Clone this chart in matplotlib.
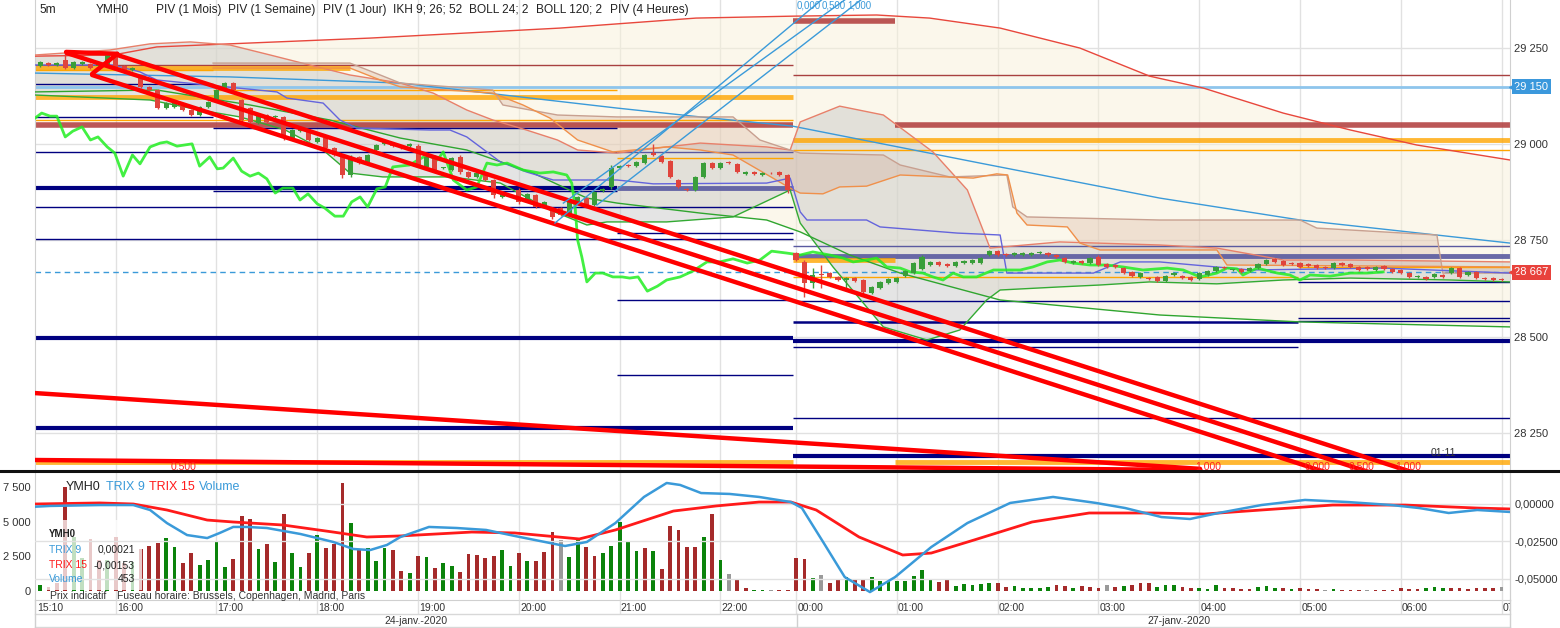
import numpy as np
import matplotlib.pyplot as plt
from matplotlib.lines import Line2D
from matplotlib.patches import Rectangle
import matplotlib.transforms as mtransforms

plt.rcParams['font.family'] = ['Liberation Sans', 'DejaVu Sans']

# ---- time axis: one unit = one 5 min bar, 15:10 -> 0, 00:00 -> 91 ----
HOUR_IDX = [0.5, 10, 22, 34, 46, 58, 70, 82, 91, 103, 115, 127, 139, 151, 163, 175]
HOUR_LBL = ['15:10', '16:00', '17:00', '18:00', '19:00', '20:00', '21:00', '22:00',
            '00:00', '01:00', '02:00', '03:00', '04:00', '05:00', '06:00', '07:00']
PRICE_TICKS = [28250, 28500, 28750, 29000, 29250]

# ---- candles (session 24-jan 0..90, session 27-jan 91..175) ----
OPEN = [29211, 29203, 29211, 29206, 29219, 29198, 29209, 29209, 29203, 29206,
        29229, 29203, 29193, 29175, 29149, 29141, 29094, 29097, 29099, 29089,
        29076, 29097, 29115, 29146, 29159, 29115, 29094, 29055, 29076, 29071,
        29071, 29017, 29034, 29037, 29006, 29017, 28990, 28967, 28920, 28967,
        28951, 28985, 29001, 29001, 28995, 28995, 28995, 28941, 28967, 28938,
        28933, 28967, 28928, 28915, 28925, 28907, 28863, 28868, 28881, 28855,
        28868, 28837, 28834, 28834, 28816, 28847, 28860, 28842, 28878, 28889,
        28938, 28946, 28943, 28951, 28977, 28969, 28956, 28907, 28884, 28881,
        28915, 28951, 28938, 28954, 28949, 28923, 28928, 28920, 28925, 28928,
        28920,
        28717, 28694, 28639, 28663, 28665, 28655, 28647, 28652, 28647, 28613,
        28626, 28639, 28642, 28657, 28665, 28676, 28686, 28694, 28689, 28683,
        28691, 28691, 28691, 28712, 28722, 28715, 28712, 28712, 28712, 28717,
        28717, 28712, 28704, 28691, 28696, 28691, 28707, 28689, 28686, 28678,
        28668, 28655, 28652, 28655, 28644, 28660, 28657, 28655, 28650, 28660,
        28670, 28681, 28673, 28676, 28670, 28678, 28689, 28702, 28696, 28691,
        28691, 28689, 28686, 28681, 28678, 28691, 28689, 28681, 28681, 28673,
        28683, 28676, 28673, 28665, 28655, 28655, 28655, 28660, 28665, 28678,
        28660, 28668, 28652, 28652, 28650]
CLOSE = [29206, 29214, 29206, 29211, 29198, 29214, 29214, 29198, 29211, 29232,
         29198, 29188, 29198, 29149, 29141, 29094, 29107, 29107, 29089, 29076,
         29097, 29110, 29141, 29159, 29141, 29063, 29058, 29079, 29058, 29073,
         29019, 29037, 29040, 29011, 29017, 28990, 28972, 28920, 28967, 28951,
         28972, 28998, 29006, 28995, 28990, 29001, 28946, 28967, 28933, 28940,
         28964, 28928, 28915, 28925, 28907, 28868, 28876, 28865, 28850, 28871,
         28837, 28850, 28811, 28816, 28855, 28863, 28842, 28876, 28884, 28938,
         28943, 28943, 28954, 28972, 28972, 28954, 28915, 28889, 28881, 28915,
         28951, 28938, 28951, 28951, 28928, 28928, 28923, 28925, 28924, 28920,
         28881,
         28699, 28639, 28660, 28660, 28655, 28647, 28652, 28644, 28616, 28629,
         28642, 28650, 28652, 28670, 28691, 28707, 28694, 28686, 28683, 28694,
         28696, 28699, 28704, 28722, 28712, 28712, 28717, 28717, 28717, 28720,
         28712, 28707, 28694, 28696, 28691, 28704, 28686, 28681, 28681, 28665,
         28657, 28665, 28650, 28644, 28657, 28665, 28652, 28647, 28665, 28670,
         28681, 28678, 28674, 28668, 28678, 28689, 28699, 28694, 28686, 28689,
         28681, 28683, 28678, 28678, 28691, 28686, 28681, 28673, 28676, 28681,
         28676, 28668, 28665, 28655, 28657, 28650, 28663, 28655, 28678, 28655,
         28668, 28652, 28650, 28647, 28647]
WICKS = {4: (29240, 29196), 13: (29180, 29146), 25: (29118, 29055), 30: (29073, 29011),
         37: (28970, 28912), 38: (28972, 28915), 46: (29001, 28941), 48: (28972, 28925),
         51: (28972, 28923), 55: (28910, 28860), 58: (28886, 28845), 62: (28837, 28805),
         64: (28860, 28811), 69: (28945, 28884), 74: (29001, 28970), 76: (28959, 28912),
         90: (28923, 28873), 92: (28699, 28603), 93: (28678, 28626), 94: (28686, 28626),
         97: (28655, 28621), 99: (28650, 28610), 106: (28712, 28673), 127: (28712, 28683)}

# ---- volume (r = down, g = up, n = unchanged) ----
VOL = [600, 430, 300, 580, 7500, 3900, 2400, 3750, 2250, 2250,
       3900, 2000, 2100, 3000, 3240, 3460, 3800, 3170, 2020, 2740,
       1870, 2230, 3600, 1730, 2300, 5400, 5200, 3020, 3380, 2090,
       5550, 2740, 1730, 2740, 4030, 3100, 3380, 7780, 4900, 2950,
       3100, 2160, 3100, 2950,
       1440, 1270, 2520, 2420, 1630, 1990, 1800, 1340, 2640, 2570,
       2350, 2520, 2930, 1820, 2710, 2160, 2160, 2780, 4250, 3670,
       2420, 3790, 3140, 2520, 2710, 3260, 4940, 3580, 2900, 3070,
       2900, 1560, 4650, 4370, 3140, 3140, 3860, 5520, 2210, 1200,
       790, 190, 70, 70, 70, 70, 70,
       2350, 2280, 910, 1130, 550, 840, 1010, 790, 790, 980,
       740, 740, 740, 740, 1080, 1510, 840, 670, 790, 360,
       500, 410, 500, 550, 550, 310, 360, 190, 210, 210,
       260, 410, 360, 210, 330, 310, 210, 410, 310, 360,
       410, 550, 550, 260, 410, 410, 310, 210, 190, 170,
       410, 190, 190, 170, 170, 260, 330, 240, 190, 170,
       190, 170, 150, 100, 150, 100, 100, 100, 70, 70,
       100, 100, 190, 170, 170, 210, 290, 190, 240, 190,
       120, 240, 240, 240, 290]
VOL_DIR = ("rgrrrggrrg" "rrgrrrggrr" "ggggrrrgrg" "rggrgrrrgr" "gggr"
           "rgrgrggrrr" "rrggrgrrrn" "ggrrgggggr" "grrrrrgrgn" "rrggnrr"
           "rrgnrrgrrg" "gggggggrrg" "ggggrrgggg" "grrgrrrnrg" "rrrgggrrgg"
           "grrrrgggrg" "rrrngrrrnr" "rrrrrgggrr" "rrrrn")

# ---- TRIX ----
TRIX9_X = [0.4, 2.2, 8.1, 12.1, 14.1, 16.1, 18.5, 20.9, 22.4, 24.0, 25.6, 28.0, 32.0, 35.9,
           38.3, 40.3, 42.3, 43.9, 47.3, 50.6, 54.1, 57.5, 63.5, 66.1, 69.5, 72.9, 75.6, 77.2,
           79.7, 83.1, 86.6, 90.4, 91.7, 94.3, 96.8, 99.8, 102.8, 107.1, 111.4, 116.5, 121.6,
           126.7, 130.2, 134.5, 137.9, 141.3, 146.4, 151.6, 156.7, 161.9, 165.2, 168.7, 172.1, 176.0]
TRIX9_Y = [-0.0018, -0.0013, -0.0007, -0.0007, -0.0040, -0.0127, -0.0207, -0.0227, -0.0193,
           -0.0153, -0.0153, -0.0160, -0.0200, -0.0253, -0.0300, -0.0307, -0.0273, -0.0220,
           -0.0153, -0.0160, -0.0173, -0.0213, -0.0280, -0.0253, -0.0127, 0.0047, 0.0140,
           0.0127, 0.0073, 0.0067, 0.0047, 0.0013, -0.0027, -0.0260, -0.0487, -0.0587,
           -0.0487, -0.0287, -0.0127, 0.0007, 0.0047, 0.0007, -0.0027, -0.0087, -0.0100,
           -0.0060, -0.0007, 0.0027, 0.0013, -0.0007, -0.0027, -0.0060, -0.0040, -0.0053]
TRIX15_X = [0.4, 8.1, 12.1, 16.1, 20.9, 24.0, 29.9, 35.9, 39.9, 43.9, 52.4, 57.5, 65.2, 69.5,
            76.4, 81.5, 86.6, 90.4, 93.4, 98.5, 103.7, 107.1, 112.2, 119.1, 125.9, 133.6,
            139.6, 146.4, 154.9, 163.5, 172.1, 176.0]
TRIX15_Y = [0.0, 0.0007, 0.0, -0.0040, -0.0107, -0.0120, -0.0140, -0.0187, -0.0220, -0.0213,
            -0.0187, -0.0193, -0.0233, -0.0173, -0.0047, -0.0013, 0.0013, 0.0013, -0.0040,
            -0.0220, -0.0340, -0.0327, -0.0240, -0.0120, -0.0060, -0.0060, -0.0067, -0.0040,
            -0.0007, -0.0007, -0.0027, -0.0033]

# ---- indicators on price ----
B120_UP_X = [0.4, 9.7, 14.9, 23.6, 34.7, 40.3, 62.9, 79.1, 90.6, 100.6, 106.9, 115.3, 124.8,
             133.1, 139.5, 149.0, 157.0, 164.9, 176.0]
B120_UP_Y = [29229, 29232, 29253, 29261, 29271, 29276, 29302, 29328, 29333, 29336, 29328,
             29302, 29250, 29177, 29146, 29081, 29037, 28998, 28959]
B120_LO_X = [0.4, 14.9, 26.0, 35.5, 43.9, 51.8, 59.7, 66.1, 69.7, 79.6, 87.5, 91.5, 97.4,
             103.4, 115.3, 134.3, 151.0, 176.0]
B120_LO_Y = [29136, 29141, 29102, 29063, 29016, 28985, 28925, 28860, 28847, 28821, 28803,
             28772, 28712, 28665, 28595, 28556, 28538, 28525]
B120_MID_X = [0.4, 23.6, 43.9, 69.7, 79.6, 90.6, 112.9, 134.3, 151.0, 176.0]
B120_MID_Y = [29185, 29175, 29159, 29094, 29071, 29047, 28951, 28860, 28803, 28743]

B24_UP_X = [0.4, 9.3, 14.1, 18.9, 23.6, 28.4, 33.1, 37.9, 43.9, 47.8, 51.8, 54.9, 58.9, 62.6,
            65.0, 69.7, 75.6, 79.6, 83.5, 87.5, 90.3, 91.5, 96.2, 101.4, 107.3, 111.4, 114.1,
            122.4, 134.3, 141.1, 149.0, 157.0, 176.0]
B24_UP_Y = [29232, 29245, 29261, 29266, 29258, 29232, 29206, 29180, 29159, 29133, 29089,
            29063, 29037, 29011, 28985, 28977, 28993, 29003, 28998, 28993, 28985, 29058,
            29099, 29076, 28980, 28881, 28730, 28746, 28738, 28730, 28699, 28699, 28694]
B24_LO_X = [0.4, 14.1, 20.0, 24.8, 30.2, 34.7, 37.9, 41.8, 49.8, 55.8, 61.7, 66.1, 68.5, 75.6,
            83.5, 90.3, 91.5, 95.4, 101.4, 106.6, 110.5, 113.7, 115.3, 122.4, 127.2, 133.1,
            141.1, 149.0, 157.0, 168.9, 176.0]
B24_LO_Y = [29128, 29115, 29089, 29071, 29037, 28985, 28925, 28915, 28915, 28899, 28829,
            28790, 28798, 28798, 28811, 28881, 28795, 28681, 28525, 28491, 28517, 28595,
            28621, 28629, 28634, 28642, 28637, 28647, 28652, 28647, 28642]

KUMO_A_X = [21.6, 37.9, 41.5, 43.9, 54.9, 56.1, 62.6, 69.7, 83.5, 86.7, 90.3, 91.5, 101.4,
            103.4, 109.3, 116.1, 116.8, 118.5, 134.3, 151.0, 153.0, 167.3, 168.0, 176.0]
KUMO_A_Y = [29211, 29211, 29180, 29159, 29141, 29102, 29076, 29071, 29071, 29011, 28985,
            28977, 28972, 28946, 28915, 28920, 28837, 28811, 28803, 28803, 28782, 28764,
            28665, 28665]
KUMO_B_X = [21.6, 37.9, 41.5, 43.9, 54.9, 58.5, 61.7, 65.0, 69.2, 75.6, 79.6, 83.5, 90.3,
            91.5, 94.2, 96.2, 99.4, 103.4, 112.1, 114.9, 116.2, 117.3, 118.5, 123.3, 124.8,
            127.2, 141.1, 142.3, 176.0]
KUMO_B_Y = [29198, 29198, 29167, 29149, 29133, 29102, 29068, 29011, 28980, 28993, 28985,
            28972, 28886, 28873, 28871, 28889, 28891, 28920, 28912, 28923, 28920, 28821,
            28790, 28785, 28743, 28725, 28725, 28686, 28681]
KIJUN_X = [0.4, 9.7, 12.9, 14.9, 29.2, 30.4, 34.7, 36.7, 38.7, 47.4, 49.8, 51.8, 55.8, 58.9,
           62.1, 69.7, 74.0, 87.5, 90.3, 91.5, 92.3, 99.4, 101.0, 110.2, 115.3, 116.1, 126.4,
           129.6, 134.3, 145.1, 160.9, 176.0]
KIJUN_Y = [29206, 29206, 29188, 29167, 29136, 29120, 29107, 29063, 29042, 29037, 29037,
           29019, 28954, 28928, 28907, 28907, 28897, 28899, 28912, 28824, 28803, 28803,
           28785, 28769, 28764, 28665, 28665, 28694, 28694, 28673, 28678, 28665]
LAG_X = [0.4, 1.2, 2.2, 3.0, 4.0, 4.9, 6.0, 7.0, 7.9, 9.0, 9.9, 10.9, 12.0, 12.9, 14.1, 15.3,
         16.1, 17.3, 19.1, 20.0, 21.2, 22.1, 22.8, 24.0, 25.0, 26.0, 27.0, 28.0, 29.0, 29.9,
         31.1, 31.95, 32.9, 34.0, 34.9, 36.1, 37.1, 38.1, 39.1, 40.0, 41.1, 42.1, 43.0, 45.0,
         46.0, 47.1, 48.3, 49.0, 50.2, 51.8, 53.0, 54.2, 55.4, 56.6, 58.5, 60.5, 62.1, 63.7,
         64.3, 64.7, 65.0, 65.5, 66.1, 67.1, 68.0, 69.2, 70.3, 71.2, 72.2, 73.3, 74.5, 75.6,
         77.2, 78.7, 80.4, 81.9, 83.5, 85.2, 86.7, 88.1, 89.9, 91.5, 93.0, 95.0, 96.6, 97.8,
         99.4, 100.6, 101.8, 103.4, 104.6, 106.1, 107.3, 108.5, 109.7, 110.9, 112.5, 114.5,
         116.1, 117.7, 119.2, 120.9, 122.4, 124.0, 126.0, 128.0, 129.9, 132.3, 135.2, 137.1,
         139.1, 141.1, 142.3, 143.5, 144.2, 145.9, 148.3, 149.8, 151.0, 152.2, 154.6, 157.0,
         159.0, 160.9]
LAG_Y = [29068, 29081, 29073, 29073, 29019, 29034, 29045, 29011, 29019, 28993, 28977, 28917,
         28972, 28949, 28993, 29003, 29006, 28995, 29001, 28943, 28967, 28936, 28938, 28964,
         28930, 28917, 28925, 28910, 28873, 28886, 28886, 28855, 28871, 28845, 28834, 28813,
         28813, 28850, 28863, 28837, 28884, 28889, 28941, 28946, 28959, 28972, 28959, 28980,
         28907, 28881, 28889, 28951, 28946, 28951, 28933, 28925, 28928, 28920, 28899, 28837,
         28751, 28707, 28642, 28665, 28665, 28655, 28655, 28652, 28655, 28618, 28631, 28647,
         28655, 28670, 28694, 28694, 28702, 28691, 28699, 28722, 28717, 28712, 28720, 28712,
         28704, 28694, 28699, 28704, 28681, 28678, 28668, 28665, 28655, 28647, 28665, 28655,
         28655, 28673, 28673, 28673, 28681, 28694, 28699, 28691, 28686, 28686, 28681, 28673,
         28678, 28673, 28655, 28665, 28678, 28676, 28660, 28678, 28665, 28660, 28647, 28660,
         28657, 28665, 28665, 28668]

# ---- pivot levels: (from bar, to bar, price, kind) ----
PIVOTS = [(0, 90.6, 29206, 'red'), (90.6, 176, 29180, 'red'), (0, 21.6, 29157, 'nav'),
          (0, 176, 29150, 'sky'), (21.6, 69.7, 29141, 'org'), (0, 90.6, 29123, 'orgB'),
          (0, 21.6, 29071, 'nav'), (0, 90.6, 29063, 'org'), (0, 90.6, 29050, 'redB'),
          (102.8, 176, 29050, 'redB'), (21.6, 69.7, 29042, 'nav'), (90.6, 176, 29011, 'orgB'),
          (90.6, 176, 28985, 'org'), (0, 69.7, 28980, 'nav'), (69.7, 90.6, 28980, 'sla'),
          (69.7, 90.6, 28964, 'org'), (0, 69.7, 28886, 'navB'), (69.7, 90.6, 28886, 'slaB'),
          (21.6, 69.7, 28878, 'nav'), (0, 90.6, 28837, 'nav'), (69.7, 90.6, 28769, 'nav'),
          (0, 90.6, 28754, 'nav'), (90.6, 176, 28735, 'sla'), (90.6, 176, 28709, 'slaB'),
          (90.6, 102.8, 28699, 'orgB'), (90.6, 150.8, 28655, 'org'), (150.8, 176, 28681, 'org'),
          (150.8, 176, 28642, 'nav'), (69.7, 90.6, 28595, 'nav'), (90.6, 176, 28592, 'nav'),
          (150.8, 176, 28548, 'nav'), (150.8, 176, 28540, 'nav'), (90.6, 150.8, 28538, 'navM'),
          (0, 90.6, 28496, 'navB'), (90.6, 176, 28488, 'navB'), (90.6, 150.8, 28473, 'nav'),
          (69.7, 90.6, 28400, 'nav'), (90.6, 176, 28288, 'nav'), (0, 90.6, 28262, 'navB'),
          (90.6, 176, 28189, 'navB'), (0, 90.6, 28174, 'orgB'), (102.8, 176, 28174, 'orgB'),
          (90.6, 102.8, 29320, 'redB'), (0, 37.9, 29198, 'orgB'), (0, 21.6, 29193, 'org')]
LAST_PRICE = 28667
ALERT_PRICE = 29150

# ---- drawings ----
TREND_LINES = [((10.2, 29232), (165.4, 28140)), ((4.2, 29237), (160.3, 28140)),
               ((7.2, 29180), (155.1, 28140)), ((4.1, 29240), (10.2, 29235)),
               ((10.2, 29235), (7.2, 29183)), ((0.4, 28353), (139.1, 28156)),
               ((0.4, 28179), (138.5, 28153))]
FAN_LINES = [((62.3, 28795), (94.3, 29380)), ((63.3, 28847), (97.1, 29380)),
             ((67.3, 28842), (99.0, 29380))]
FAN_LABELS = [(91.1, '0,000'), (94.1, '0,500'), (97.1, '1,000')]
FIB_LABELS = [(16.5, '0,500'), (138.5, '1,000'), (151.6, '0,000'), (156.8, '0,500'), (162.3, '1,000')]

W, H = 1560, 628
def fx(px): return px / W
def fy(py): return 1 - py / H

GRID = '#e1e1e1'
UP, DN = '#3a9e3a', '#e0443c'
VCOL = {'r': '#a52a2a', 'g': '#0b830b', 'n': '#9a9a9a'}
STY = {'nav': ('#000080', 1.0, 1), 'navM': ('#000080', 1.8, 1), 'navB': ('#000080', 3.0, 1),
       'sla': ('#5a5aa0', 1.0, 1), 'slaB': ('#5a5aa0', 3.5, 0.9), 'org': ('#ffa500', 1.0, 1),
       'orgB': ('#ffa500', 3.5, 0.8), 'red': ('#a84040', 1.0, 1), 'redB': ('#b03a3a', 4.0, 0.85),
       'sky': ('#8ec5ec', 2.0, 1)}

fig = plt.figure(figsize=(15.6, 6.28), dpi=100)

# ================= price panel =================
ax = fig.add_axes([fx(35), fy(470), fx(1510) - fx(35), 470 / H])
ax.set_xlim(0.4, 176.0)
ax.set_ylim(28153, 29375)
ax.set_xticks(HOUR_IDX[1:])
ax.set_yticks(PRICE_TICKS)
ax.set_yticklabels([f'{p:,}'.replace(',', ' ') for p in PRICE_TICKS])
ax.yaxis.tick_right()
ax.tick_params(axis='y', length=0, pad=3, labelsize=8, labelcolor='#333333')
ax.tick_params(axis='x', length=0, labelbottom=False)
ax.grid(True, color=GRID, lw=1, zorder=0)
ax.set_axisbelow(True)
for s in ['top', 'bottom']:
    ax.spines[s].set_visible(False)
for s in ['left', 'right']:
    ax.spines[s].set_color('#d0d0d0')

# fills
ax.fill(np.r_[B120_UP_X, B120_LO_X[::-1]], np.r_[B120_UP_Y, B120_LO_Y[::-1]],
        color='#f8f1d8', alpha=0.5, lw=0, zorder=1)
ax.fill(np.r_[B24_UP_X, B24_LO_X[::-1]], np.r_[B24_UP_Y, B24_LO_Y[::-1]],
        color='#c4c4c4', alpha=0.45, lw=0, zorder=1.2)
ax.fill(np.r_[KUMO_A_X, KUMO_B_X[::-1]], np.r_[KUMO_A_Y, KUMO_B_Y[::-1]],
        color='#c89078', alpha=0.22, lw=0, zorder=1.3)

# pivots
for x0, x1, p, kind in PIVOTS:
    c, lw, a = STY[kind]
    ax.plot([x0, x1], [p, p], color=c, lw=lw, alpha=a, solid_capstyle='butt', zorder=2)
ax.axhline(LAST_PRICE, color='#3a9ad9', lw=1, ls=(0, (4, 3)), zorder=2)

# indicator lines
ax.plot(B120_UP_X, B120_UP_Y, color='#e8473c', lw=1, zorder=3)
ax.plot(B120_LO_X, B120_LO_Y, color='#2fa52f', lw=1, zorder=3)
ax.plot(B120_MID_X, B120_MID_Y, color='#3a9ad9', lw=1, zorder=3)
ax.plot(B24_UP_X, B24_UP_Y, color='#e8806a', lw=1, zorder=3)
ax.plot(B24_LO_X, B24_LO_Y, color='#33aa33', lw=1, zorder=3)
ax.plot(KUMO_A_X, KUMO_A_Y, color='#c8a090', lw=1, zorder=3)
ax.plot(KUMO_B_X, KUMO_B_Y, color='#f0904a', lw=1, zorder=3)
ax.plot(KIJUN_X, KIJUN_Y, color='#6464dc', lw=1, zorder=3)
ax.plot(LAG_X, LAG_Y, color='#22ee22', lw=2, alpha=0.85, zorder=3.5)

# candles
for i, (o, c) in enumerate(zip(OPEN, CLOSE)):
    col = UP if c >= o else DN
    hi, lo = WICKS.get(i, (max(o, c) + 2, min(o, c) - 2))
    ax.vlines(i, lo, hi, color=col, lw=1, zorder=4)
    ax.bar(i, max(abs(c - o), 2.5), bottom=min(o, c), width=0.6, color=col, lw=0, zorder=4)

# drawn lines
for (x0, p0), (x1, p1) in TREND_LINES:
    ax.plot([x0, x1], [p0, p1], color='#ff0000', lw=3.2, solid_capstyle='round', zorder=5)
for (x0, p0), (x1, p1) in FAN_LINES:
    ax.plot([x0, x1], [p0, p1], color='#3a9ad9', lw=1, zorder=5)
for x, t in FAN_LABELS:
    ax.text(x, 29362, t, color='#3a9ad9', fontsize=7, va='center', ha='left', zorder=6)
for x, t in FIB_LABELS:
    ax.text(x, 28161, t, color='#ff2020', fontsize=7.5, va='center', ha='left', zorder=6)
ax.text(166.5, 28197, '01:11', color='#333333', fontsize=7.5, va='center', ha='left', zorder=6)

# price tags on the right
bt = mtransforms.blended_transform_factory(ax.transAxes, ax.transData)
for p, c in [(ALERT_PRICE, '#3b98dc'), (LAST_PRICE, '#e8423c')]:
    ax.text(1.003, p, f'{p:,}'.replace(',', ' '), transform=bt, color='white', fontsize=8,
            va='center', ha='left', zorder=7, clip_on=False,
            bbox=dict(boxstyle='square,pad=0.22', fc=c, ec='none'))
    ax.plot([1.0015], [p], marker='<', ms=5, color=c, transform=bt, clip_on=False, zorder=7)

# ================= volume / TRIX panel =================
ax2 = fig.add_axes([fx(35), fy(600), fx(1510) - fx(35), 128 / H])
ax2.set_xlim(0.4, 176.0)
ax2.set_ylim(-648, 8573)
ax2.bar(np.arange(len(VOL)), VOL, width=0.45, color=[VCOL[d] for d in VOL_DIR], lw=0, zorder=2)
ax2.set_xticks(HOUR_IDX[1:])
ax2.set_yticks([0, 2500, 5000, 7500])
ax2.set_yticklabels(['0', '2 500', '5 000', '7 500'])
ax2.tick_params(axis='y', length=0, pad=3, labelsize=8, labelcolor='#333333')
ax2.tick_params(axis='x', length=0, labelbottom=False)
ax2.grid(True, axis='x', color=GRID, lw=1, zorder=0)
ax2.set_axisbelow(True)
ax2.spines['top'].set_visible(False)
for s in ['left', 'right', 'bottom']:
    ax2.spines[s].set_color('#d0d0d0')
ax2.add_patch(Rectangle((1.6, 72), 11.5, 5040, fc='white', ec='none', alpha=0.75, zorder=5))

ax3 = ax2.twinx()
ax3.set_xlim(0.4, 176.0)
ax3.set_ylim(-0.064, 0.02133)
ax3.plot(TRIX15_X, TRIX15_Y, color='#ff1a1a', lw=2, zorder=3)
ax3.plot(TRIX9_X, TRIX9_Y, color='#3a9ad9', lw=1.8, zorder=3)
ax3.set_yticks([0, -0.025, -0.05])
ax3.set_yticklabels(['0,00000', '-0,02500', '-0,05000'])
ax3.tick_params(axis='y', length=0, pad=3, labelsize=8, labelcolor='#333333')
ax3.grid(True, axis='y', color=GRID, lw=1, zorder=0)
ax3.set_axisbelow(True)
for s in ['top', 'left', 'bottom']:
    ax3.spines[s].set_visible(False)
ax3.spines['right'].set_color('#d0d0d0')

# ================= time row =================
axt = fig.add_axes([fx(35), fy(614), fx(1510) - fx(35), 14 / H])
axt.set_xlim(0.4, 176.0)
axt.set_ylim(0, 1)
axt.axis('off')
axt.vlines(HOUR_IDX[1:], 0, 1, color=GRID, lw=1)
for x, t in zip(HOUR_IDX, HOUR_LBL):
    axt.text(x + 0.15, 0.45, t, fontsize=7.5, color='#333333', ha='left', va='center', clip_on=True)

for py in [614, 627]:
    fig.add_artist(Line2D([fx(35), fx(1510)], [fy(py), fy(py)], color='#d8d8d8', lw=1))
for px, y0 in [(35, 600), (797, 614), (1510, 600)]:
    fig.add_artist(Line2D([fx(px), fx(px)], [fy(y0), fy(628)], color='#d0d0d0', lw=1))
fig.text(fx(416), fy(621), '24-janv.-2020', fontsize=7.5, color='#333333', ha='center', va='center')
fig.text(fx(1179), fy(621), '27-janv.-2020', fontsize=7.5, color='#333333', ha='center', va='center')

# separator between panels
fig.add_artist(Line2D([0, 1], [fy(471), fy(471)], color='#111111', lw=2.2))

# ================= texts =================
for px, t in [(39, '5m'), (96, 'YMH0'), (156, 'PIV (1 Mois)'), (228, 'PIV (1 Semaine)'),
              (323, 'PIV (1 Jour)'), (393, 'IKH 9; 26; 52'), (469, 'BOLL 24; 2'),
              (536, 'BOLL 120; 2'), (610, 'PIV (4 Heures)')]:
    fig.text(fx(px), fy(10), t, fontsize=8.6, color='#222222', ha='left', va='center')

for px, t, c in [(66, 'YMH0', '#222222'), (106, 'TRIX 9', '#3a9ad9'),
                 (149, 'TRIX 15', '#ff1a1a'), (199, 'Volume', '#3a9ad9')]:
    fig.text(fx(px), fy(487), t, fontsize=9, color=c, ha='left', va='center')

fig.text(fx(49), fy(534), 'YMH0', fontsize=7, color='#222222', weight='bold', ha='left', va='center')
for py, name, val, c in [(550, 'TRIX 9', '0,00021', '#3a9ad9'), (565, 'TRIX 15', '-0,00153', '#ff1a1a'),
                         (579, 'Volume', '453', '#3a9ad9')]:
    fig.text(fx(49), fy(py), name, fontsize=7.5, color=c, ha='left', va='center')
    fig.text(fx(135), fy(py), val, fontsize=7.5, color='#222222', ha='right', va='center')

fig.text(fx(50), fy(596), 'Prix indicatif', fontsize=7.5, color='#333333', ha='left', va='center')
fig.text(fx(117), fy(596), 'Fuseau horaire: Brussels, Copenhagen, Madrid, Paris', fontsize=7.5,
         color='#333333', ha='left', va='center')

fig.savefig('out.png', dpi=100)
